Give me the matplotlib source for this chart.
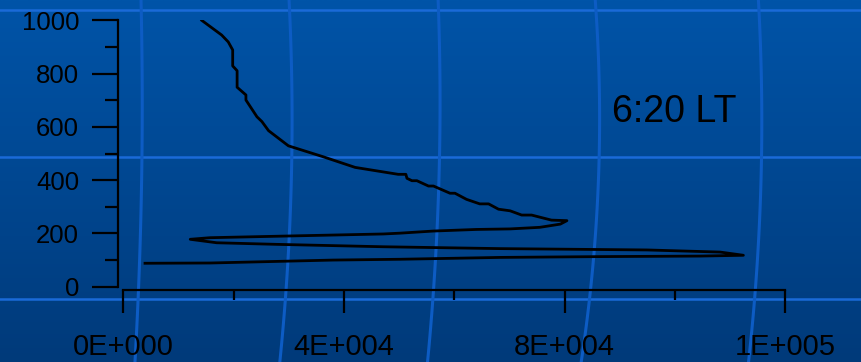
import numpy as np
import matplotlib
matplotlib.use("Agg")
from matplotlib import pyplot as plt
from matplotlib.ticker import FixedLocator

# profile values (x in units of 1E4)
x_vals = [1.42, 1.78, 1.90, 1.98, 1.98, 2.06, 2.06, 2.22, 2.22, 2.42, 2.51, 2.63, 2.99, 3.62,
          4.20, 4.98, 5.12, 5.14, 5.23, 5.32, 5.53, 5.62, 5.92, 6.01, 6.22, 6.46, 6.62, 6.80,
          7.01, 7.22, 7.40, 7.76, 8.04, 7.92, 7.55, 7.01, 6.40, 5.62, 5.01, 4.71, 2.90, 1.57,
          1.21, 1.69, 2.78, 4.71, 6.83, 9.49, 10.82, 11.24, 10.45, 8.64, 6.83, 5.01, 3.80,
          1.57, 0.39]
y_vals = [1000, 945, 919, 889, 829, 811, 749, 720, 701, 638, 620, 586, 529, 488,
          448, 422, 422, 407, 398, 398, 378, 378, 351, 351, 328, 311, 311, 291,
          285, 269, 269, 250, 248, 235, 223, 217, 215, 209, 201, 198, 190, 184,
          178, 165, 159, 150, 143, 138, 130, 118, 115, 113, 110, 103, 100,
          89, 88]

x_major = [0, 4e4, 8e4, 1.2e5]
x_minor = [2e4, 6e4, 1e5]
x_tick_labels = ["0E+000", "4E+004", "8E+004", "1E+005"]
y_major = [0, 200, 400, 600, 800, 1000]
y_minor = [100, 300, 500, 700, 900]
note = "6:20 LT"

W, H = 861, 362
fig = plt.figure(figsize=(W / 100, H / 100), dpi=100)

# background: slide gradient with light blue template lines
bg = fig.add_axes([0, 0, 1, 1])
bg.set_xlim(0, W)
bg.set_ylim(H, 0)
bg.axis("off")
top = np.array([0, 84, 168]) / 255
bot = np.array([0, 58, 122]) / 255
t = np.linspace(0, 1, 256)[:, None, None]
grad = top * (1 - t) + bot * t
grad = np.repeat(grad, 2, axis=1)
bg.imshow(grad, extent=[0, W, H, 0], aspect="auto", zorder=0)
for yy in [10, 157, 299]:
    bg.plot([0, W], [yy, yy], color="#1a6ad8", lw=1.8, zorder=1)
for pts in [[141, 142, 138, 135], [289, 292, 285, 280], [438, 440, 432, 428],
            [595, 600, 588, 582], [758, 763, 752, 750]]:
    ys = [0, 155, 300, 362]
    c = np.polyfit(ys, pts, 2)
    yy = np.linspace(0, H, 60)
    bg.plot(np.polyval(c, yy), yy, color="#0d5cc4", lw=2.2, zorder=1)

# main chart
ax = fig.add_axes([123.5 / W, (H - 286.7) / H, (785.3 - 123.5) / W, (286.7 - 20.4) / H])
ax.patch.set_alpha(0)
ax.plot(np.array(x_vals) * 1e4, y_vals, color="black", lw=2.0, solid_joinstyle="round")
ax.set_xlim(0, 1.2e5)
ax.set_ylim(0, 1000)

for s in ["top", "right"]:
    ax.spines[s].set_visible(False)
ax.spines["left"].set_position(("outward", 4))
ax.spines["bottom"].set_position(("outward", 2.5))
for s in ["left", "bottom"]:
    ax.spines[s].set_linewidth(1.6)

ax.xaxis.set_major_locator(FixedLocator(x_major))
ax.xaxis.set_minor_locator(FixedLocator(x_minor))
ax.set_xticklabels(x_tick_labels)
ax.yaxis.set_major_locator(FixedLocator(y_major))
ax.yaxis.set_minor_locator(FixedLocator(y_minor))

ax.tick_params(axis="x", which="major", direction="out", length=16.5, width=1.6, pad=14,
               labelsize=21, labelcolor="black")
ax.tick_params(axis="x", which="minor", direction="out", length=7, width=1.6)
ax.tick_params(axis="y", which="major", direction="out", length=19, width=1.6, pad=9,
               labelsize=18.5, labelcolor="black")
ax.tick_params(axis="y", which="minor", direction="out", length=9.5, width=1.6)
for lab in ax.get_xticklabels() + ax.get_yticklabels():
    lab.set_family(["Liberation Sans", "DejaVu Sans"])

fig.text(612 / W, 1 - 112 / H, note, ha="left", va="center", fontsize=27,
         family=["Liberation Sans Narrow", "Liberation Sans", "DejaVu Sans"], color="black")

fig.savefig("out.png", dpi=100)
